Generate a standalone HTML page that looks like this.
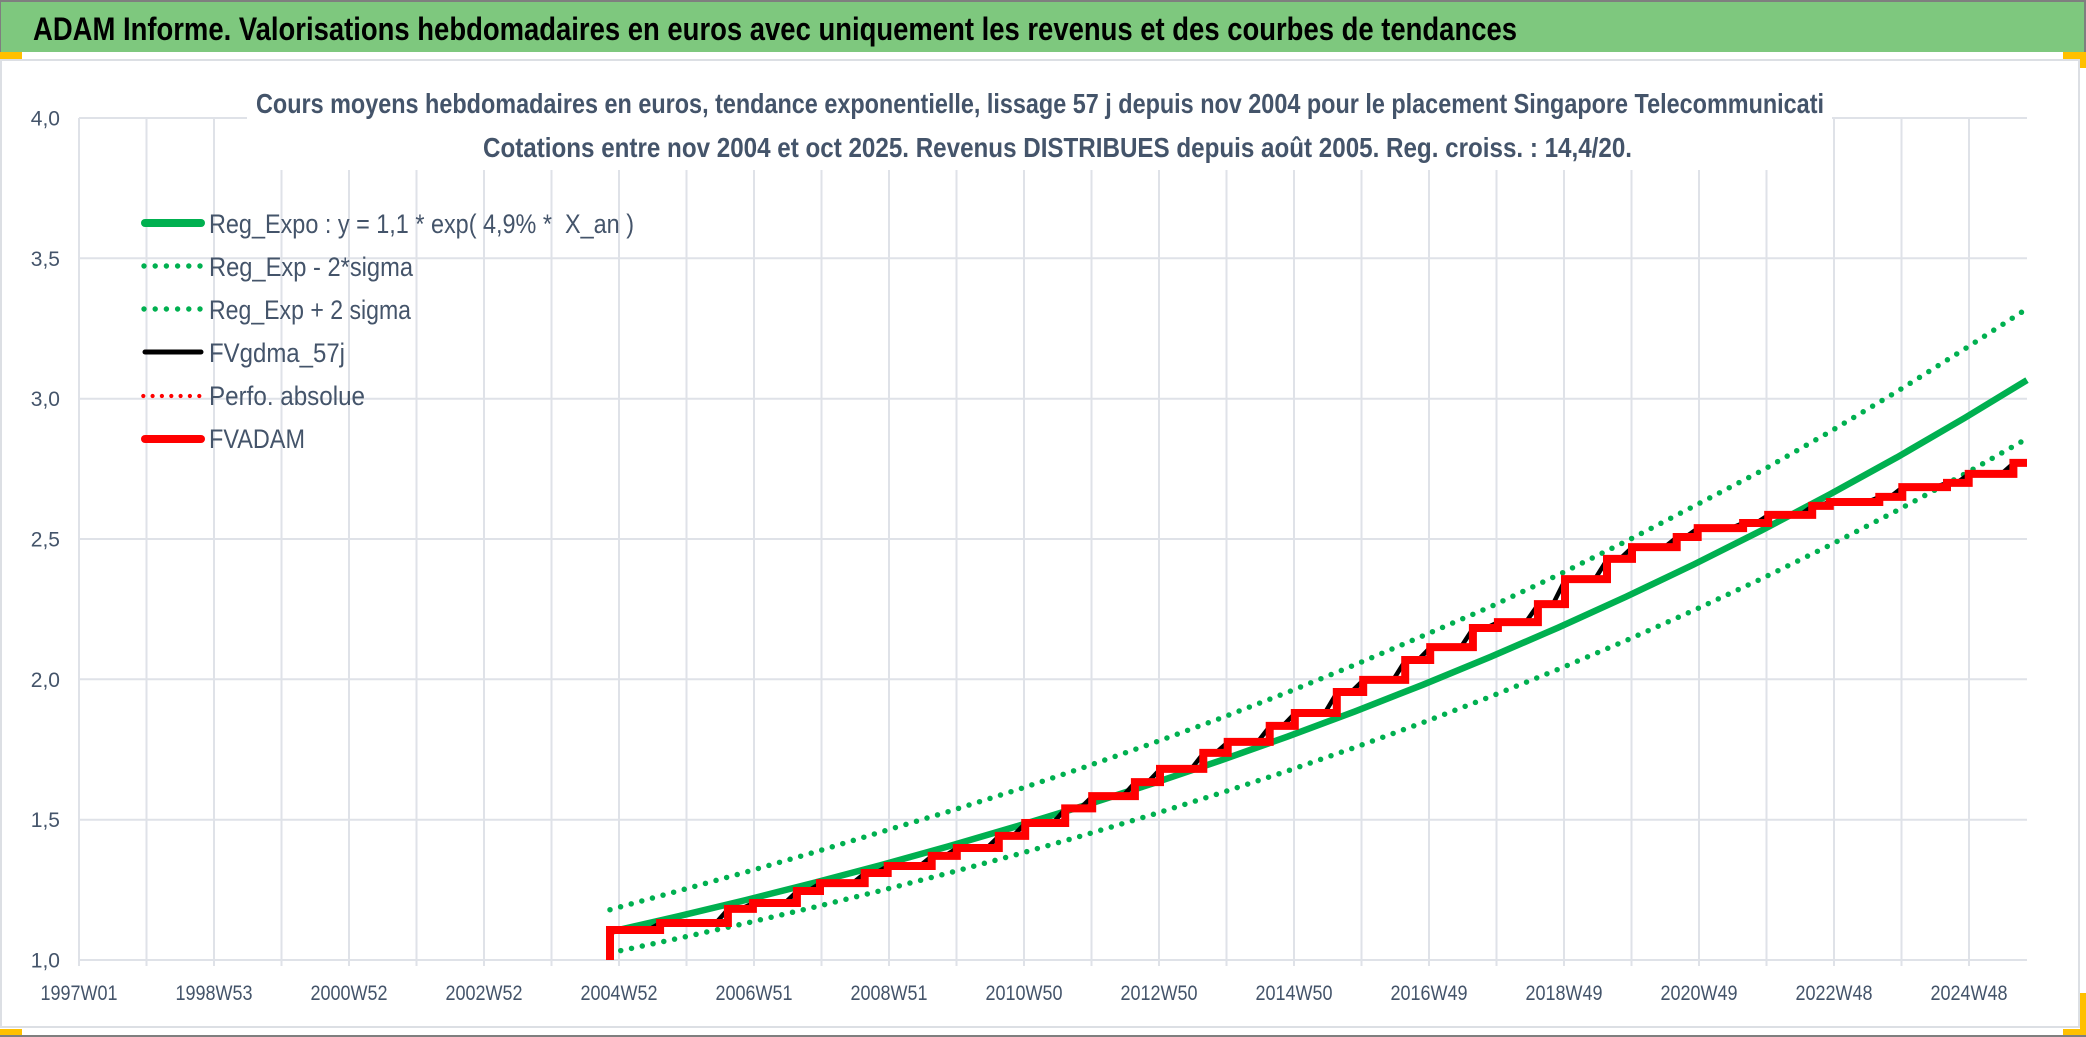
<!DOCTYPE html>
<html><head><meta charset="utf-8"><style>
html,body{margin:0;padding:0;background:#fff;}
svg{display:block;}
text{font-family:"Liberation Sans",sans-serif;}
</style></head><body>
<svg width="2086" height="1037" viewBox="0 0 2086 1037" xmlns="http://www.w3.org/2000/svg">
<rect x="0" y="0" width="2086" height="1037" fill="#fff"/>
<!-- header -->
<rect x="0" y="0" width="2086" height="52" fill="#7ec87e"/>
<rect x="0" y="0" width="2086" height="2" fill="#7f7f7f"/>
<rect x="0" y="0" width="1" height="52" fill="#7f7f7f"/>
<rect x="2084" y="0" width="2" height="52" fill="#7f7f7f"/>
<text x="33" y="40" font-size="32" font-weight="bold" fill="#000" textLength="1484" lengthAdjust="spacingAndGlyphs">ADAM Informe. Valorisations hebdomadaires en euros avec uniquement les revenus et des courbes de tendances</text>
<!-- chart frame -->
<rect x="1" y="60" width="2078" height="967" fill="#fff" stroke="#dcdfe4" stroke-width="2"/>
<rect x="0" y="1035" width="2086" height="2" fill="#7f7f7f"/>
<!-- orange corners -->
<rect x="0" y="52" width="22" height="7" fill="#ffc000"/>
<rect x="2063" y="52" width="23" height="7" fill="#ffc000"/>
<rect x="2080" y="52" width="6" height="16" fill="#ffc000"/>
<rect x="0" y="1029" width="22" height="6" fill="#ffc000"/>
<rect x="2063" y="1029" width="23" height="6" fill="#ffc000"/>
<rect x="2080" y="993" width="6" height="42" fill="#ffc000"/>
<!-- gridlines -->
<g stroke="#dfe2e8" stroke-width="2">
<line x1="79" y1="118" x2="2027" y2="118"/>
<line x1="79" y1="258.3" x2="2027" y2="258.3"/>
<line x1="79" y1="398.7" x2="2027" y2="398.7"/>
<line x1="79" y1="539" x2="2027" y2="539"/>
<line x1="79" y1="679.3" x2="2027" y2="679.3"/>
<line x1="79" y1="819.7" x2="2027" y2="819.7"/>
<line x1="79" y1="960" x2="2027" y2="960"/>
<line x1="79" y1="118" x2="79" y2="966"/>
<line x1="146.5" y1="118" x2="146.5" y2="966"/>
<line x1="214" y1="118" x2="214" y2="966"/>
<line x1="281.5" y1="118" x2="281.5" y2="966"/>
<line x1="349" y1="118" x2="349" y2="966"/>
<line x1="416.5" y1="118" x2="416.5" y2="966"/>
<line x1="484" y1="118" x2="484" y2="966"/>
<line x1="551.5" y1="118" x2="551.5" y2="966"/>
<line x1="619" y1="118" x2="619" y2="966"/>
<line x1="686.5" y1="118" x2="686.5" y2="966"/>
<line x1="754" y1="118" x2="754" y2="966"/>
<line x1="821.5" y1="118" x2="821.5" y2="966"/>
<line x1="889" y1="118" x2="889" y2="966"/>
<line x1="956.5" y1="118" x2="956.5" y2="966"/>
<line x1="1024" y1="118" x2="1024" y2="966"/>
<line x1="1091.5" y1="118" x2="1091.5" y2="966"/>
<line x1="1159" y1="118" x2="1159" y2="966"/>
<line x1="1226.5" y1="118" x2="1226.5" y2="966"/>
<line x1="1294" y1="118" x2="1294" y2="966"/>
<line x1="1361.5" y1="118" x2="1361.5" y2="966"/>
<line x1="1429" y1="118" x2="1429" y2="966"/>
<line x1="1496.5" y1="118" x2="1496.5" y2="966"/>
<line x1="1564" y1="118" x2="1564" y2="966"/>
<line x1="1631.5" y1="118" x2="1631.5" y2="966"/>
<line x1="1699" y1="118" x2="1699" y2="966"/>
<line x1="1766.5" y1="118" x2="1766.5" y2="966"/>
<line x1="1834" y1="118" x2="1834" y2="966"/>
<line x1="1901.5" y1="118" x2="1901.5" y2="966"/>
<line x1="1969" y1="118" x2="1969" y2="966"/>
</g>
<!-- title mask -->
<rect x="247" y="95" width="1585" height="75" fill="#fff"/>
<text x="256" y="113" font-size="27.5" font-weight="bold" fill="#44546a" textLength="1568" lengthAdjust="spacingAndGlyphs">Cours moyens hebdomadaires en euros, tendance exponentielle, lissage 57 j depuis nov 2004 pour le placement Singapore Telecommunicati</text>
<text x="483" y="157" font-size="27.5" font-weight="bold" fill="#44546a" textLength="1149" lengthAdjust="spacingAndGlyphs">Cotations entre nov 2004 et oct 2025. Revenus DISTRIBUES depuis août 2005. Reg. croiss. : 14,4/20.</text>
<!-- y labels -->
<g font-size="21" fill="#44546a" text-anchor="end">
<text x="60" y="125.5">4,0</text>
<text x="60" y="265.8">3,5</text>
<text x="60" y="406.2">3,0</text>
<text x="60" y="546.5">2,5</text>
<text x="60" y="686.8">2,0</text>
<text x="60" y="827.2">1,5</text>
<text x="60" y="967.5">1,0</text>
</g>
<!-- x labels -->
<g font-size="21" fill="#44546a" text-anchor="middle">
<text x="79" y="1000" textLength="77" lengthAdjust="spacingAndGlyphs">1997W01</text>
<text x="214" y="1000" textLength="77" lengthAdjust="spacingAndGlyphs">1998W53</text>
<text x="349" y="1000" textLength="77" lengthAdjust="spacingAndGlyphs">2000W52</text>
<text x="484" y="1000" textLength="77" lengthAdjust="spacingAndGlyphs">2002W52</text>
<text x="619" y="1000" textLength="77" lengthAdjust="spacingAndGlyphs">2004W52</text>
<text x="754" y="1000" textLength="77" lengthAdjust="spacingAndGlyphs">2006W51</text>
<text x="889" y="1000" textLength="77" lengthAdjust="spacingAndGlyphs">2008W51</text>
<text x="1024" y="1000" textLength="77" lengthAdjust="spacingAndGlyphs">2010W50</text>
<text x="1159" y="1000" textLength="77" lengthAdjust="spacingAndGlyphs">2012W50</text>
<text x="1294" y="1000" textLength="77" lengthAdjust="spacingAndGlyphs">2014W50</text>
<text x="1429" y="1000" textLength="77" lengthAdjust="spacingAndGlyphs">2016W49</text>
<text x="1564" y="1000" textLength="77" lengthAdjust="spacingAndGlyphs">2018W49</text>
<text x="1699" y="1000" textLength="77" lengthAdjust="spacingAndGlyphs">2020W49</text>
<text x="1834" y="1000" textLength="77" lengthAdjust="spacingAndGlyphs">2022W48</text>
<text x="1969" y="1000" textLength="77" lengthAdjust="spacingAndGlyphs">2024W48</text>
</g>
<!-- series -->
<polyline fill="none" stroke="#00b050" stroke-width="6.5" stroke-linejoin="round" points="610,931.9 677.7,916.4 745.5,900.1 813.2,883 880.9,865.1 948.7,846.2 1016.4,826.4 1084.1,805.6 1151.8,783.8 1219.6,760.8 1287.3,736.7 1355,711.4 1422.8,684.8 1490.5,656.9 1558.2,627.6 1625.9,596.8 1693.7,564.5 1761.4,530.5 1829.1,494.8 1896.9,457.4 1964.6,418 2027,380.1"/>
<polyline fill="none" stroke="#00b050" stroke-width="5.5" stroke-linecap="round" stroke-dasharray="0 11" points="610,952.9 677.7,938.5 745.5,923.3 813.2,907.4 880.9,890.6 948.7,873 1016.4,854.6 1084.1,835.2 1151.8,814.8 1219.6,793.4 1287.3,771 1355,747.4 1422.8,722.6 1490.5,696.6 1558.2,669.3 1625.9,640.6 1693.7,610.4 1761.4,578.8 1829.1,545.6 1896.9,510.6 1964.6,474 2027,438.6"/>
<polyline fill="none" stroke="#00b050" stroke-width="5.5" stroke-linecap="round" stroke-dasharray="0 11" points="610,909.7 677.7,891.1 745.5,872.2 813.2,852.6 880.9,832 948.7,811.5 1016.4,790 1084.1,767.3 1151.8,743.5 1219.6,718.6 1287.3,692.4 1355,664.8 1422.8,635.9 1490.5,606.7 1558.2,574.9 1625.9,541.4 1693.7,506.3 1761.4,470.9 1829.1,432.2 1896.9,391.6 1964.6,349 2027,308.7"/>
<path fill="none" stroke="#000" stroke-width="4.5" stroke-linejoin="round" d="M610,930 L648.1,930 L660.6,923 L715.9,923 L728.4,908.9 L740.9,908.9 L753.4,903 L784.9,903 L797.4,891 L808,891 L820.5,883.1 L852.7,883.1 L865.2,873 L875.7,873 L888.2,866 L919.7,866 L932.2,855.9 L944.8,855.9 L957.3,848 L986.8,848 L999.3,835.9 L1013.2,835.9 L1025.7,823 L1053.2,823 L1065.7,808.4 L1080.2,808.4 L1092.7,796.1 L1122.9,796.1 L1135.4,782.1 L1148,782.1 L1160.5,768.9 L1191.3,768.9 L1203.8,752.9 L1215.7,752.9 L1228.2,741.9 L1257.7,741.9 L1270.2,725.9 L1282.8,725.9 L1295.3,713 L1324.8,713 L1337.3,692 L1351.2,692 L1363.7,679.9 L1393.2,679.9 L1405.7,660 L1418.2,660 L1430.7,647.1 L1460.9,647.1 L1473.4,628 L1485.9,628 L1498.4,622.1 L1525.9,622.1 L1538.4,604.1 L1553,604.1 L1565.5,579.1 L1595,579.1 L1607.5,558.9 L1620,558.9 L1632.5,547.1 L1664.7,547.1 L1677.2,537 L1685.7,537 L1698.2,528.1 L1731.1,528.1 L1743.6,523 L1756.2,523 L1768.7,514.9 L1800.2,514.9 L1812.7,505.9 L1817.8,505.9 L1830.3,502 L1867.3,502 L1879.8,496.9 L1890.3,496.9 L1902.8,487.1 L1935,487.1 L1947.5,482.9 L1956.7,482.9 L1969.2,473.9 L2001.4,473.9 L2013.9,462.9 L2027,462.9"/>
<path fill="none" stroke="#ff0000" stroke-width="8" stroke-linejoin="miter" d="M610,960 V930 H660.1 V923 H727.9 V908.9 H752.9 V903 H796.9 V891 H820 V883.1 H864.7 V873 H887.7 V866 H931.7 V855.9 H956.8 V848 H998.8 V835.9 H1025.2 V823 H1065.2 V808.4 H1092.2 V796.1 H1134.9 V782.1 H1160 V768.9 H1203.3 V752.9 H1227.7 V741.9 H1269.7 V725.9 H1294.8 V713 H1336.8 V692 H1363.2 V679.9 H1405.2 V660 H1430.2 V647.1 H1472.9 V628 H1497.9 V622.1 H1537.9 V604.1 H1565 V579.1 H1607 V558.9 H1632 V547.1 H1676.7 V537 H1697.7 V528.1 H1743.1 V523 H1768.2 V514.9 H1812.2 V505.9 H1829.8 V502 H1879.3 V496.9 H1902.3 V487.1 H1947 V482.9 H1968.7 V473.9 H2013.4 V462.9 H2027"/>
<!-- legend -->
<line x1="145" y1="223" x2="201" y2="223" stroke="#00b050" stroke-width="8" stroke-linecap="round"/>
<g fill="#00b050">
<circle cx="144" cy="266" r="2.7"/><circle cx="155.2" cy="266" r="2.7"/><circle cx="166.4" cy="266" r="2.7"/><circle cx="177.6" cy="266" r="2.7"/><circle cx="188.8" cy="266" r="2.7"/><circle cx="200" cy="266" r="2.7"/>
<circle cx="144" cy="309" r="2.7"/><circle cx="155.2" cy="309" r="2.7"/><circle cx="166.4" cy="309" r="2.7"/><circle cx="177.6" cy="309" r="2.7"/><circle cx="188.8" cy="309" r="2.7"/><circle cx="200" cy="309" r="2.7"/>
</g>
<line x1="145" y1="352" x2="201" y2="352" stroke="#000" stroke-width="5" stroke-linecap="round"/>
<g fill="#ff0000">
<circle cx="143.3" cy="396" r="2.1"/><circle cx="152.6" cy="396" r="2.1"/><circle cx="161.9" cy="396" r="2.1"/><circle cx="171.3" cy="396" r="2.1"/><circle cx="180.6" cy="396" r="2.1"/><circle cx="189.9" cy="396" r="2.1"/><circle cx="199.3" cy="396" r="2.1"/>
</g>
<line x1="145" y1="439" x2="201" y2="439" stroke="#ff0000" stroke-width="8" stroke-linecap="round"/>
<g font-size="27" fill="#44546a">
<text x="209" y="233" style="white-space:pre" textLength="425" lengthAdjust="spacingAndGlyphs">Reg_Expo : y = 1,1 * exp( 4,9% *  X_an )</text>
<text x="209" y="276" textLength="204" lengthAdjust="spacingAndGlyphs">Reg_Exp - 2*sigma</text>
<text x="209" y="319" textLength="202" lengthAdjust="spacingAndGlyphs">Reg_Exp + 2 sigma</text>
<text x="209" y="362" textLength="136" lengthAdjust="spacingAndGlyphs">FVgdma_57j</text>
<text x="209" y="405" textLength="156" lengthAdjust="spacingAndGlyphs">Perfo. absolue</text>
<text x="209" y="448" textLength="96" lengthAdjust="spacingAndGlyphs">FVADAM</text>
</g>
</svg>
</body></html>
